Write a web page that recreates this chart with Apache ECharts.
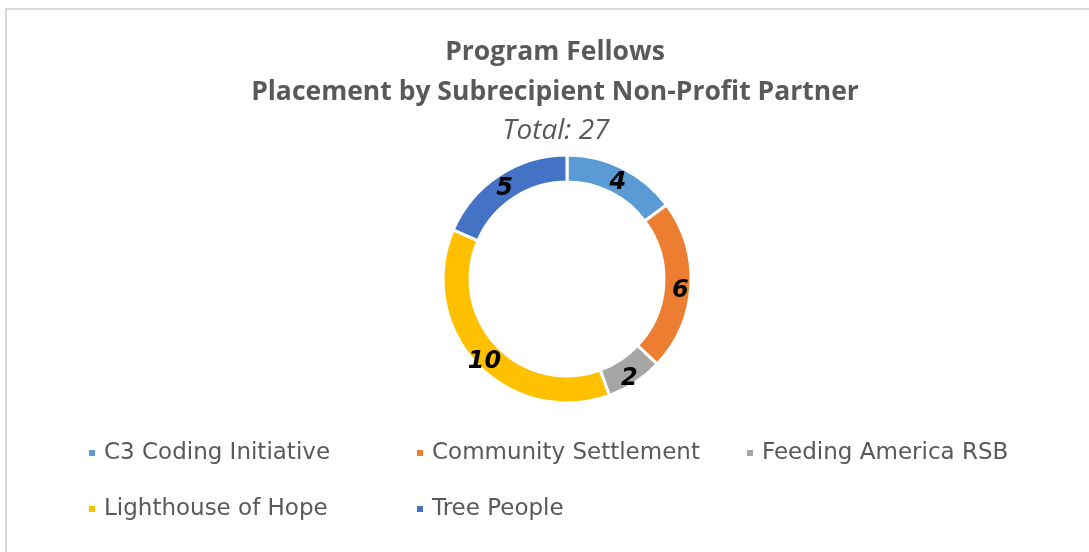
<!DOCTYPE html>
<html>
<head>
<meta charset="utf-8">
<script src="https://cdn.jsdelivr.net/npm/echarts@6/dist/echarts.min.js"></script>
<style>
html, body { margin: 0; padding: 0; background: #fff; }
#main { width: 1089px; height: 552px; }
</style>
</head>
<body>
<div id="main"></div>
<script>
var partners = ['C3 Coding Initiative', 'Community Settlement', 'Feeding America RSB', 'Lighthouse of Hope', 'Tree People'];
var fellows = [4, 6, 2, 10, 5];
var colorArr = ['#5b9bd5', '#ed7d31', '#a5a5a5', '#ffc000', '#4472c4'];

var total = 0;
for (var i = 0; i < fellows.length; i++) {
	total += fellows[i];
}

var pieData = [];
for (var j = 0; j < partners.length; j++) {
	pieData.push({ name: partners[j], value: fellows[j] });
}

var legendText = { color: '#595959', fontSize: 23, fontFamily: 'DejaVu Sans', lineHeight: 26, padding: [0, 0, 0, 3] };

function makeLegend(names, left) {
	return {
		orient: 'vertical',
		left: left,
		top: 440,
		padding: 0,
		itemGap: 30,
		itemWidth: 8,
		itemHeight: 8,
		icon: 'rect',
		selectedMode: false,
		textStyle: legendText,
		data: names
	};
}

var chart = echarts.init(document.getElementById('main'));
var option = {
	color: colorArr,
	animation: false,
	title: [{
		text: 'Program Fellows\nPlacement by Subrecipient Non-Profit Partner',
		left: 550,
		top: 27,
		textAlign: 'center',
		textStyle: {
			color: '#595959',
			fontSize: 26.5,
			fontWeight: 'bold',
			fontFamily: 'Open Sans',
			lineHeight: 40
		}
	}, {
		text: 'Total: ' + total,
		left: 551,
		top: 112,
		textAlign: 'center',
		textStyle: {
			color: '#595959',
			fontSize: 28,
			fontWeight: 'normal',
			fontStyle: 'italic',
			fontFamily: 'Open Sans'
		}
	}],
	legend: [
		makeLegend([partners[0], partners[3]], 87),
		makeLegend([partners[1], partners[4]], 415),
		makeLegend([partners[2]], 745)
	],
	graphic: [{
		type: 'rect',
		shape: { x: 6, y: 9, width: 1100, height: 560 },
		style: { fill: 'none', stroke: '#d9d9d9', lineWidth: 2 },
		silent: true
	}],
	series: [{
		type: 'pie',
		center: [567, 279],
		radius: [97, 124],
		startAngle: 90,
		clockwise: true,
		avoidLabelOverlap: false,
		itemStyle: { borderColor: '#fff', borderWidth: 3 },
		label: {
			show: true,
			position: 'inside',
			formatter: '{c}',
			color: '#000',
			fontSize: 24,
			fontWeight: 'bold',
			fontStyle: 'italic',
			fontFamily: 'DejaVu Sans'
		},
		labelLayout: { dy: 5 },
		labelLine: { show: false },
		emphasis: { disabled: true },
		data: pieData
	}]
};
chart.setOption(option);
</script>
</body>
</html>
